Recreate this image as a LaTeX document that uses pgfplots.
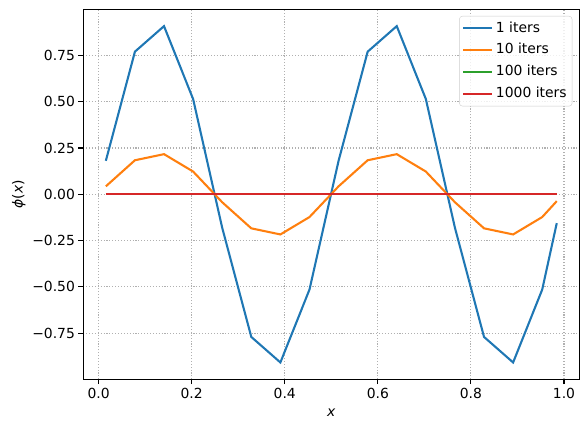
\documentclass[border=0pt]{standalone}
\usepackage{pgfplots}
\pgfplotsset{compat=1.18}
\usepackage{fontspec}
\setmainfont{DejaVu Sans}
\definecolor{c1}{HTML}{1F77B4}
\definecolor{c2}{HTML}{FF7F0E}
\definecolor{c3}{HTML}{2CA02C}
\definecolor{c4}{HTML}{D62728}
\definecolor{gridc}{HTML}{B0B0B0}
\begin{document}
\begin{tikzpicture}
\begin{axis}[
  at={(0,0)}, anchor=south west,
  scale only axis, width=496bp, height=370bp,
  xmin=-0.0328, xmax=1.0328, ymin=-1.0, ymax=1.0,
  xtick={0,0.2,0.4,0.6,0.8,1.0},
  xticklabels={0.0,0.2,0.4,0.6,0.8,1.0},
  ytick={-0.75,-0.5,-0.25,0,0.25,0.5,0.75},
  yticklabels={−0.75,−0.50,−0.25,0.00,0.25,0.50,0.75},
  tick pos=left, tick align=outside,
  major tick length=4.9bp,
  every tick/.style={black, line width=1.1bp},
  axis line style={line width=1.1bp},
  grid=major,
  grid style={color=gridc, line width=1.1bp, dash pattern=on 1.1bp off 1.8bp},
  font=\fontsize{13.9bp}{16bp}\selectfont,
  tick label style={font=\fontsize{13.9bp}{16bp}\selectfont},
  xlabel={\textit{x}},
  xlabel style={yshift=-3.5bp},
  ylabel={\textit{ϕ}(\textit{x})},
  legend style={at={(1,1)}, anchor=north east, xshift=-7bp, yshift=-6.7bp,
    draw=black!20, rounded corners=3bp, fill=white, fill opacity=0.8, text opacity=1,
    draw opacity=1, font=\fontsize{13.9bp}{16bp}\selectfont,
    nodes={inner sep=2.5bp, text height=10.5bp, text depth=3bp}, row sep=3.3bp, inner sep=3bp},
  legend cell align=left,
  legend image code/.code={\draw[#1] (0bp,0bp) -- (29bp,0bp);},
  every axis plot/.append style={line width=2.08bp, no markers},
]
\addplot[c1] coordinates {
(0.015625,0.181) (0.078125,0.771) (0.140625,0.909) (0.203125,0.515)
(0.265625,-0.181) (0.328125,-0.771) (0.390625,-0.909) (0.453125,-0.515)
(0.515625,0.181) (0.578125,0.771) (0.640625,0.909) (0.703125,0.515)
(0.765625,-0.181) (0.828125,-0.771) (0.890625,-0.909) (0.953125,-0.515)
(0.984375,-0.156)};
\addlegendentry{1 iters}
\addplot[c2] coordinates {
(0.015625,0.043) (0.078125,0.184) (0.140625,0.217) (0.203125,0.123)
(0.265625,-0.043) (0.328125,-0.184) (0.390625,-0.217) (0.453125,-0.123)
(0.515625,0.043) (0.578125,0.184) (0.640625,0.217) (0.703125,0.123)
(0.765625,-0.043) (0.828125,-0.184) (0.890625,-0.217) (0.953125,-0.123)
(0.984375,-0.037)};
\addlegendentry{10 iters}
\addplot[c3] coordinates {
(0.015625,0) (0.078125,0) (0.140625,0) (0.203125,0)
(0.265625,0) (0.328125,0) (0.390625,0) (0.453125,0)
(0.515625,0) (0.578125,0) (0.640625,0) (0.703125,0)
(0.765625,0) (0.828125,0) (0.890625,0) (0.953125,0)
(0.984375,0)};
\addlegendentry{100 iters}
\addplot[c4] coordinates {
(0.015625,0) (0.078125,0) (0.140625,0) (0.203125,0)
(0.265625,0) (0.328125,0) (0.390625,0) (0.453125,0)
(0.515625,0) (0.578125,0) (0.640625,0) (0.703125,0)
(0.765625,0) (0.828125,0) (0.890625,0) (0.953125,0)
(0.984375,0)};
\addlegendentry{1000 iters}
\end{axis}
\path[use as bounding box] (-83.3bp,-52.7bp) rectangle (504.7bp,379.3bp);
\end{tikzpicture}
\end{document}
